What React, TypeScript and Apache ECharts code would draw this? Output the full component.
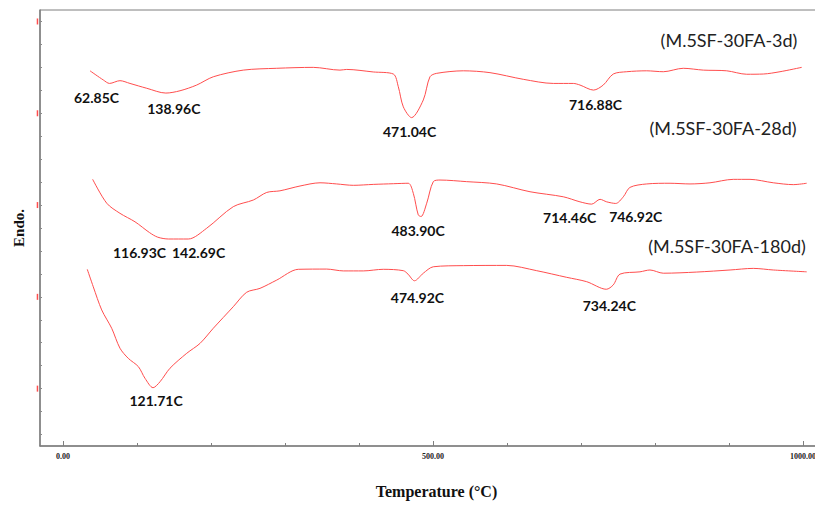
import React, { useEffect, useRef } from "react";
import * as echarts from "echarts";

// DSC traces, temperature (°C) against heat flow (arbitrary, stacked offsets)
const temps3d = [36.5, 54.5, 62.85, 77.0, 90.5, 113.1, 138.96, 158.1, 180.7, 203.1, 243.6, 288.8, 338.2, 374.3, 383.4, 419.3, 446.4, 453.1, 459.9, 471.04, 486.9, 495.9, 505.0, 541.0, 577.0, 622.0, 662.6, 689.6, 698.6, 716.88, 730.1, 743.6, 761.8, 788.8, 811.2, 838.2, 865.3, 896.9, 923.9, 946.4, 968.9, 998.2];
const flow3d = [16.35, 15.95, 15.8, 15.92, 15.8, 15.59, 15.38, 15.48, 15.73, 16.09, 16.38, 16.46, 16.5, 16.38, 16.41, 16.3, 16.21, 15.66, 14.78, 14.31, 15.08, 16.09, 16.24, 16.35, 16.27, 15.98, 15.8, 15.8, 15.73, 15.51, 15.73, 16.21, 16.31, 16.35, 16.31, 16.46, 16.38, 16.35, 16.2, 16.21, 16.31, 16.5];

const temps28d = [40.1, 59.1, 77.0, 97.3, 116.93, 128.0, 142.69, 169.3, 194.2, 230.1, 257.2, 275.3, 293.2, 320.3, 347.3, 369.9, 392.3, 419.3, 446.4, 466.6, 473.4, 480.1, 483.9, 491.5, 500.4, 509.5, 545.5, 586.1, 631.1, 676.1, 698.6, 714.46, 725.7, 734.7, 746.92, 757.2, 766.2, 788.8, 820.3, 847.3, 874.3, 905.8, 928.4, 959.9, 986.9, 1005.0];
const flow28d = [11.62, 10.58, 10.14, 9.77, 9.3, 9.1, 9.02, 9.02, 9.49, 10.43, 10.72, 11.05, 11.12, 11.33, 11.47, 11.42, 11.36, 11.4, 11.43, 11.45, 11.01, 10.07, 10.0, 10.58, 11.52, 11.59, 11.52, 11.42, 11.08, 10.86, 10.64, 10.54, 10.75, 10.64, 10.57, 10.86, 11.27, 11.42, 11.45, 11.42, 11.47, 11.62, 11.62, 11.47, 11.39, 11.45];

const temps180d = [32.8, 40.9, 52.3, 65.8, 77.0, 88.2, 101.8, 110.8, 121.71, 131.1, 144.6, 167.2, 185.1, 203.1, 230.1, 248.2, 266.2, 288.8, 318.0, 356.4, 378.8, 405.8, 432.8, 459.9, 466.2, 474.92, 486.9, 500.4, 541.0, 599.6, 640.1, 680.7, 707.7, 734.24, 743.6, 752.7, 779.7, 793.2, 811.2, 856.4, 901.4, 932.8, 959.9, 1005.0];
const flow180d = [7.7, 6.94, 5.93, 5.13, 4.26, 3.82, 3.46, 2.95, 2.54, 2.8, 3.39, 4.04, 4.47, 5.13, 6.07, 6.7, 6.87, 7.23, 7.7, 7.71, 7.63, 7.63, 7.7, 7.64, 7.49, 7.2, 7.53, 7.81, 7.86, 7.87, 7.64, 7.35, 7.16, 6.83, 7.02, 7.49, 7.59, 7.67, 7.53, 7.58, 7.67, 7.74, 7.67, 7.59];

const seriesNames = ["(M.5SF-30FA-3d)", "(M.5SF-30FA-28d)", "(M.5SF-30FA-180d)"];

// Peak temperatures annotated on each trace
const peaks3d = [62.85, 138.96, 471.04, 716.88];
const peaks28d = [116.93, 142.69, 483.9, 714.46, 746.92];
const peaks180d = [121.71, 474.92, 734.24];

// Label offsets (px) from each peak
const offsets3d = [[-13, 14], [8, 15], [-2, 14], [2, 14]];
const offsets28d = [[-10, 20], [30, 13], [-3, 14], [-22, 13], [20, 13]];
const offsets180d = [[3, 13], [3, 17], [3, 16]];

// Name positions for each trace
const namePos = [[729, 40], [723, 128], [727, 246]];

const xTicks = [0, 100, 200, 300, 400, 500, 600, 700, 800, 900, 1000];
const xLabels = [0, 500, 1000];
const yMinorTicks = Array.from({ length: 19 }, (_, i) => i + 0.5);
const yMarkLevels = [2.5, 6.5, 10.5, 14.5, 18.5];

const LINE_COLOR = "#ff4d4d";

function buildSeries(temps: number[], flow: number[], peaks: number[], offsets: number[][], name: string) {
  const data = temps.map((t, i) => [t, flow[i]]);
  return {
    type: "line",
    name,
    data,
    smooth: 0.3,
    showSymbol: false,
    symbol: "none",
    lineStyle: { color: LINE_COLOR, width: 1 },
    itemStyle: { color: LINE_COLOR },
    markPoint: {
      symbol: "circle",
      symbolSize: 0,
      silent: true,
      data: peaks.map((p, i) => ({
        coord: [p, flow[temps.indexOf(p)]],
        value: p,
        label: {
          show: true,
          position: "inside",
          offset: offsets[i],
          formatter: p.toFixed(2) + "C",
          fontFamily: "Lato",
          fontWeight: "bold",
          fontSize: 14,
          color: "#111",
          align: "center",
          verticalAlign: "middle",
        },
      })),
    },
  };
}

export default function App() {
  const ref = useRef<HTMLDivElement>(null);

  useEffect(() => {
    if (!ref.current) return;
    const chart = echarts.init(ref.current, null, { renderer: "svg" });
    const xMin = -31.08;
    const xMax = 1018.92;
    chart.setOption({
      animation: false,
      backgroundColor: "#ffffff",
      grid: {
        left: 40,
        top: 10,
        width: 777,
        height: 436,
        outerBoundsMode: "none",
        containLabel: false,
        show: true,
        borderColor: "#7f7f7f",
        borderWidth: 1,
        backgroundColor: "transparent",
      },
      xAxis: [
        {
          type: "value",
          min: xMin,
          max: xMax,
          name: "Temperature (°C)",
          nameLocation: "middle",
          nameGap: 37,
          nameTextStyle: {
            fontFamily: "Liberation Serif",
            fontWeight: "bold",
            fontSize: 16,
            color: "#111",
            padding: [0, 0, 0, 16],
          },
          axisLine: { show: true, onZero: false, lineStyle: { color: "#7f7f7f", width: 1.5 } },
          axisTick: {
            show: true,
            inside: true,
            length: 3,
            customValues: xTicks,
            lineStyle: { color: "#7f7f7f" },
          },
          axisLabel: {
            show: true,
            customValues: xLabels,
            margin: 6,
            hideOverlap: false,
            formatter: (v: number) => v.toFixed(2),
            fontFamily: "Liberation Sans Narrow",
            fontWeight: "bold",
            fontSize: 8,
            color: "#222",
          },
          splitLine: { show: false },
        },
        {
          type: "value",
          min: xMin,
          max: xMax,
          position: "bottom",
          axisLine: { show: false, onZero: false },
          axisTick: {
            show: true,
            inside: true,
            length: 5,
            customValues: xLabels,
            lineStyle: { color: "#7f7f7f" },
          },
          axisLabel: { show: false },
          splitLine: { show: false },
        },
      ],
      yAxis: {
        type: "value",
        min: 0,
        max: 19,
        name: "Endo.",
        nameLocation: "middle",
        nameGap: 14,
        nameTextStyle: {
          fontFamily: "Liberation Serif",
          fontWeight: "bold",
          fontSize: 15,
          color: "#111",
        },
        axisLine: { show: true, onZero: false, lineStyle: { color: "#7f7f7f", width: 1.5 } },
        axisTick: {
          show: true,
          inside: true,
          length: 2,
          customValues: yMinorTicks,
          lineStyle: { color: "#8a8a8a" },
        },
        axisLabel: { show: false },
        splitLine: { show: false },
      },
      series: [
        buildSeries(temps3d, flow3d, peaks3d, offsets3d, seriesNames[0]),
        buildSeries(temps28d, flow28d, peaks28d, offsets28d, seriesNames[1]),
        buildSeries(temps180d, flow180d, peaks180d, offsets180d, seriesNames[2]),
        {
          // red reference marks just left of the heat-flow axis
          type: "scatter",
          clip: false,
          silent: true,
          symbol: "rect",
          symbolSize: [1.5, 6],
          itemStyle: { color: "#ff2020" },
          data: yMarkLevels.map((v) => [-34.5, v]),
        },
      ],
      graphic: seriesNames.map((n, i) => ({
        type: "text",
        x: namePos[i][0],
        y: namePos[i][1],
        style: {
          text: n,
          fontFamily: "Lato",
          fontSize: 18,
          fill: "#222",
          textAlign: "center",
          textVerticalAlign: "middle",
        },
      })),
    });
    return () => chart.dispose();
  }, []);

  return (
    <div
      ref={ref}
      style={{ position: "absolute", left: 0, top: 0, width: 815, height: 505 }}
    />
  );
}
